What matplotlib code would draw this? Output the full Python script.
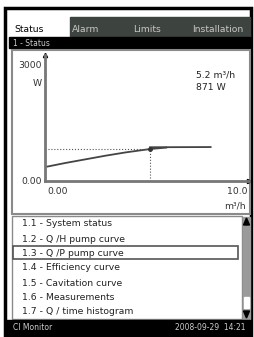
import matplotlib.pyplot as plt
from matplotlib.patches import Rectangle, Polygon

# pump curve Q/P (m3/h, W)
flow = [0.0, 1.0, 2.0, 3.0, 4.0, 5.2, 6.0]
power = [380, 490, 590, 690, 780, 871, 910]
flat_q = [5.2, 8.2]
flat_p = [920, 925]
op_q, op_p = 5.2, 871

tabs = ["Status", "Alarm", "Limits", "Installation"]
tab_x = [14, 72, 133, 192]
menu = ["1.1 - System status", "1.2 - Q /H pump curve", "1.3 - Q /P pump curve",
        "1.4 - Efficiency curve", "1.5 - Cavitation curve", "1.6 - Measurements",
        "1.7 - Q / time histogram"]
menu_y = [224, 239, 253, 268, 283, 297, 312]
selected = 2

W, H = 255, 337
fig = plt.figure(figsize=(W / 100, H / 100), dpi=100)

# overlay in pixel coords for the screen frame
ui = fig.add_axes([0, 0, 1, 1])
ui.set_xlim(0, W)
ui.set_ylim(H, 0)
ui.axis("off")

fs = 6.7
ui.add_patch(Rectangle((5, 8), 246, 327, fill=False, ec="black", lw=2.5))
# tab bar
ui.add_patch(Rectangle((70, 17), 180, 20, color="#3d433e"))
for i, (t, x) in enumerate(zip(tabs, tab_x)):
    ui.text(x, 30, t, fontsize=fs, color="black" if i == 0 else "#c8c8c8", va="center")
ui.add_patch(Rectangle((9, 37), 241, 11, color="black"))
ui.text(13, 43, "1 - Status", fontsize=5.5, color="#cccccc", va="center")

# chart frame
ui.add_patch(Rectangle((12, 50), 238, 164, fill=False, ec="#8a8a8a", lw=1.5))
ui.text(42, 66, "3000", fontsize=fs, ha="right", va="center", color="#333")
ui.text(42, 83, "W", fontsize=fs, ha="right", va="center", color="#333")
ui.text(42, 181, "0.00", fontsize=fs, ha="right", va="center", color="#333")
ui.text(47, 191, "0.00", fontsize=fs, ha="left", va="center", color="#333")
ui.text(248, 191, "10.0", fontsize=fs, ha="right", va="center", color="#333")
ui.text(246, 206, "m³/h", fontsize=fs, ha="right", va="center", color="#333")
ui.text(196, 75, "5.2 m³/h", fontsize=fs, ha="left", va="center", color="#222")
ui.text(196, 88, "871 W", fontsize=fs, ha="left", va="center", color="#222")

# menu list
ui.add_patch(Rectangle((12, 216), 230, 103, fill=False, ec="#8a8a8a", lw=1))
for i, (m, y) in enumerate(zip(menu, menu_y)):
    ui.text(22, y, m, fontsize=fs, va="center", color="#222")
ui.add_patch(Rectangle((13, menu_y[selected] - 7), 225, 13, fill=False, ec="#555", lw=1.2))
# scrollbar
ui.add_patch(Rectangle((243, 217), 7, 102, color="#9a9a9a"))
ui.add_patch(Rectangle((244, 297), 5, 11, color="white"))
ui.add_patch(Polygon([[243.5, 225], [249.5, 225], [246.5, 218]], color="black"))
ui.add_patch(Polygon([[243.5, 311], [249.5, 311], [246.5, 318]], color="black"))

# status bar
ui.add_patch(Rectangle((6, 320), 244, 14, color="black"))
ui.text(13, 327, "CI Monitor", fontsize=5.5, va="center", color="#cccccc")
ui.text(246, 327, "2008-09-29  14:21", fontsize=5.5, ha="right", va="center", color="#cccccc")

# chart axes: x 0..10 -> px 45..247, y 0..3000 -> px 181..71
x0, x1, y0, y1 = 45, 249, 55, 181
ax = fig.add_axes([x0 / W, 1 - y1 / H, (x1 - x0) / W, (y1 - y0) / H])
ax.set_xlim(0, (x1 - x0) / 20.2)
ax.set_ylim(0, (y1 - y0) / 0.0367)
ax.patch.set_alpha(0)
for s in ["top", "right"]:
    ax.spines[s].set_visible(False)
for s in ["left", "bottom"]:
    ax.spines[s].set_color("#777")
    ax.spines[s].set_linewidth(2)
ax.set_xticks([])
ax.set_yticks([])
ax.plot(1, 0, ">", color="black", ms=3, transform=ax.transAxes, clip_on=False)
ax.plot(0, 1, "^", color="black", ms=3, transform=ax.transAxes, clip_on=False)

ax.plot(flow, power, color="#444", lw=1.3)
ax.plot(flat_q, flat_p, color="#444", lw=1.3)
ax.plot([0, op_q], [op_p, op_p], color="#555", lw=0.8, ls=":")
ax.plot([op_q, op_q], [0, op_p], color="#555", lw=0.8, ls=":")
ax.plot(op_q, op_p, "o", color="#333", ms=2.5)

fig.savefig("out.png", dpi=100)
